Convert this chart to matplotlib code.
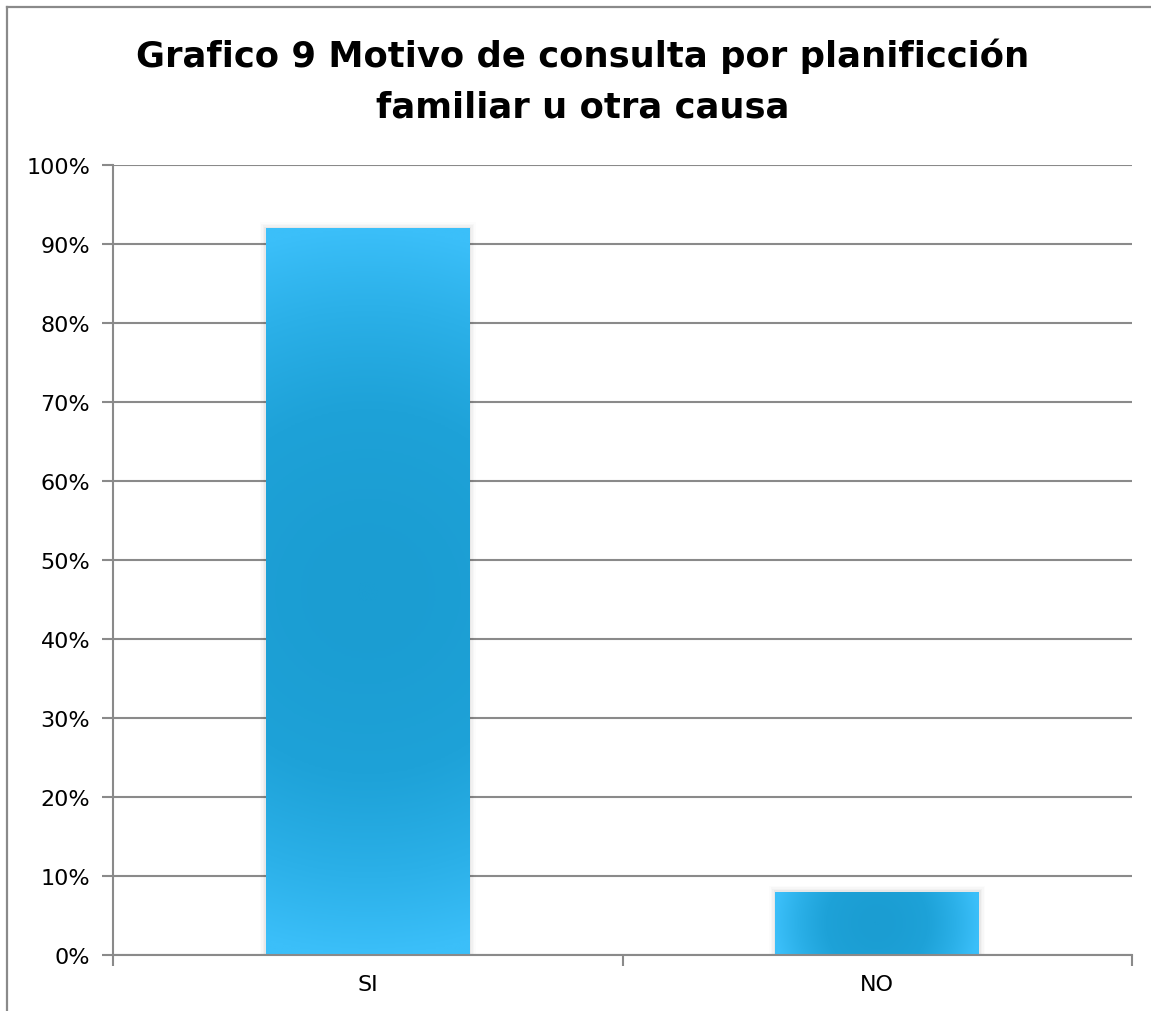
import numpy as np
import matplotlib
matplotlib.use("Agg")
import matplotlib.pyplot as plt
from matplotlib.colors import LinearSegmentedColormap
from matplotlib.lines import Line2D

categories = ["SI", "NO"]
values = [0.92, 0.08]
yticks = [0.0, 0.1, 0.2, 0.3, 0.4, 0.5, 0.6, 0.7, 0.8, 0.9, 1.0]
ytick_labels = ["0%", "10%", "20%", "30%", "40%", "50%", "60%", "70%", "80%", "90%", "100%"]
title_line1 = "Grafico 9 Motivo de consulta por planificción"
title_line2 = "familiar u otra causa"

W, H, DPI = 1151, 1012, 100
fig = plt.figure(figsize=(W / DPI, H / DPI), dpi=DPI)
fig.patch.set_facecolor("white")

ax = fig.add_axes([113 / W, 1 - 956 / H, (1132 - 113) / W, (956 - 166) / H])
ax.set_facecolor("white")

grid_c = "#8a8a8a"
lw = 1.5
x = np.arange(len(categories))
bw = 0.40
bars = ax.bar(x, values, width=bw, color="none", edgecolor="none", zorder=3)

ax.set_xlim(-0.5, len(categories) - 0.5)
ax.set_ylim(0, 1.0)

fig.canvas.draw()
p0 = ax.transData.transform((0, 0))
p1 = ax.transData.transform((1, 1))
sx, sy = p1[0] - p0[0], p1[1] - p0[1]

cmap = LinearSegmentedColormap.from_list("g", ["#1b9dd2", "#1ea2d8", "#2bb0e8", "#3bbff9"])
for rect in bars:
    bx, by = rect.get_x(), rect.get_y()
    w, h = rect.get_width(), rect.get_height()
    wp, hp = w * sx, h * sy
    R = max(wp, hp) / 2.0
    nx, ny = 200, 400
    xs = np.linspace(-wp / 2, wp / 2, nx)
    ys = np.linspace(-hp / 2, hp / 2, ny)
    XX, YY = np.meshgrid(xs, ys)
    r = np.clip(np.sqrt(XX ** 2 + YY ** 2) / R, 0, 1)
    val = r ** 1.6
    for k, a in zip([6, 4.5, 3, 1.5], [0.012, 0.018, 0.025, 0.035]):
        sh = plt.Rectangle((bx - k / sx, by), w + 2 * k / sx, h + k / sy,
                           facecolor="#000000", alpha=a, edgecolor="none", zorder=2.5)
        ax.add_patch(sh)
    im = ax.imshow(val, cmap=cmap, vmin=0, vmax=1, extent=(bx, bx + w, by, by + h),
                   origin="lower", aspect="auto", zorder=3, interpolation="bilinear")
    im.set_clip_path(rect)

ax.set_xlim(-0.5, len(categories) - 0.5)
ax.set_ylim(0, 1.0)

tick_family = ["DejaVu Sans"]

ax.set_yticks(yticks)
ax.set_yticklabels(ytick_labels)
ax.yaxis.grid(True, color=grid_c, linewidth=lw, zorder=1)
ax.set_axisbelow(True)
ax.tick_params(axis="y", length=8, width=lw, color=grid_c, pad=8.5,
               labelsize=16, labelcolor="#000000")

ax.set_xticks([-0.5, 0.5, 1.5])
ax.set_xticklabels(["", "", ""])
ax.set_xticks(x, minor=True)
ax.set_xticklabels(categories, minor=True)
ax.tick_params(axis="x", which="major", length=8, width=lw, color=grid_c)
ax.tick_params(axis="x", which="minor", length=0, pad=14, labelsize=16, labelcolor="#000000")

for s in ["top", "right"]:
    ax.spines[s].set_visible(False)
for s in ["left", "bottom"]:
    ax.spines[s].set_color(grid_c)
    ax.spines[s].set_linewidth(lw)
    ax.spines[s].set_zorder(4)

for lab in ax.get_yticklabels() + ax.get_xticklabels(minor=True):
    lab.set_fontfamily(tick_family)

tfont = dict(fontfamily=["DejaVu Sans"], fontweight="bold", fontsize=25.5,
             color="#000000", ha="center", va="baseline")
fig.text(583 / W, 1 - 67 / H, title_line1, **tfont)
fig.text(583 / W, 1 - 117 / H, title_line2, **tfont)

fig.add_artist(Line2D([7 / W, 7 / W], [0, 1 - 8 / H], transform=fig.transFigure,
                      color=grid_c, linewidth=1.6))
fig.add_artist(Line2D([7 / W, 1], [1 - 8 / H, 1 - 8 / H], transform=fig.transFigure,
                      color=grid_c, linewidth=1.6))

fig.savefig("out.png", dpi=DPI, facecolor="white")
